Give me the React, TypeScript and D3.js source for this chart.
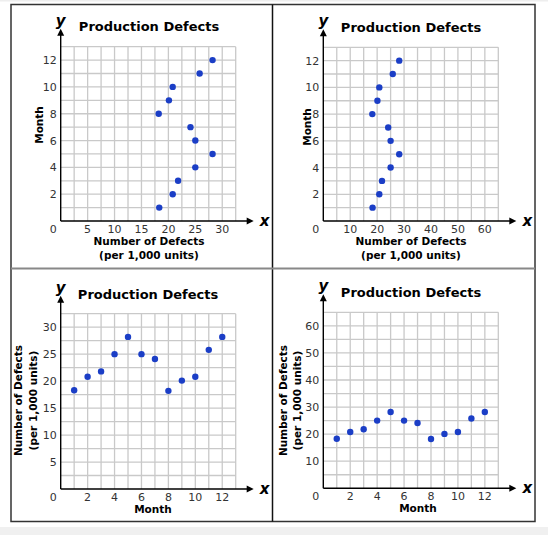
import React from "react";
import * as d3 from "d3";

const months = [1, 2, 3, 4, 5, 6, 7, 8, 9, 10, 11, 12];
const defects = [18.3, 20.8, 21.8, 25, 28.2, 25, 24.1, 18.2, 20.1, 20.8, 25.8, 28.2];

const monthTicks = [2, 4, 6, 8, 10, 12];
const defectTicksNarrow = [5, 10, 15, 20, 25, 30];
const defectTicksWide = [10, 20, 30, 40, 50, 60];

const TITLE = "Production Defects";
const DEF_LABEL = ["Number of Defects", "(per 1,000 units)"];
const MONTH_LABEL = "Month";

const FONT = "'DejaVu Sans', Verdana, sans-serif";
const DOT = "#1b3ec6";
const GRID = "#c9c9c9";

type PanelProps = {
  left: number; right: number; top: number; bottom: number;
  xMax: number; xStep: number; xTicks: number[];
  yMax: number; yStep: number; yTicks: number[];
  xs: number[]; ys: number[];
  titleX: number; titleY: number;
  xLabel: string[]; xLabelX: number;
  yLabel: string[]; yLabelX: number[]; yLabelY: number;
};

function Panel(p: PanelProps) {
  const x = d3.scaleLinear().domain([0, p.xMax]).range([p.left, p.right]);
  const y = d3.scaleLinear().domain([0, p.yMax]).range([p.bottom, p.top]);
  const xGrid = d3.range(p.xStep, p.xMax + 1e-6, p.xStep);
  const yGrid = d3.range(p.yStep, p.yMax + 1e-6, p.yStep);
  const ox = x(0);
  const oy = y(0);
  return (
    <g>
      {xGrid.map((v, i) => (
        <line key={"gx" + i} x1={x(v)} x2={x(v)} y1={p.top} y2={oy} stroke={GRID} strokeWidth={1.3} />
      ))}
      {yGrid.map((v, i) => (
        <line key={"gy" + i} x1={ox} x2={p.right} y1={y(v)} y2={y(v)} stroke={GRID} strokeWidth={1.3} />
      ))}
      <line x1={ox} x2={ox} y1={oy} y2={p.top - 14} stroke="#000" strokeWidth={1.4} />
      <path d={`M${ox - 3.5},${p.top - 11} L${ox},${p.top - 18} L${ox + 3.5},${p.top - 11} Z`} fill="#000" />
      <line x1={ox} x2={p.right + 14} y1={oy} y2={oy} stroke="#000" strokeWidth={1.4} />
      <path d={`M${p.right + 11},${oy - 3.5} L${p.right + 18},${oy} L${p.right + 11},${oy + 3.5} Z`} fill="#000" />
      <text x={ox} y={p.top - 21} textAnchor="middle" fontFamily={FONT} fontSize={15} fontWeight="bold" fontStyle="italic" fill="#000">y</text>
      <text x={p.right + 29} y={oy + 5} textAnchor="middle" fontFamily={FONT} fontSize={15} fontWeight="bold" fontStyle="italic" fill="#000">x</text>
      <text x={ox - 4} y={oy + 12} textAnchor="end" fontFamily={FONT} fontSize={11} fill="#333">0</text>
      {p.xTicks.map((v, i) => (
        <text key={"xt" + i} x={x(v)} y={oy + 12} textAnchor="middle" fontFamily={FONT} fontSize={11} fill="#333">{v}</text>
      ))}
      {p.yTicks.map((v, i) => (
        <text key={"yt" + i} x={ox - 4} y={y(v) + 4} textAnchor="end" fontFamily={FONT} fontSize={11} fill="#333">{v}</text>
      ))}
      <text x={p.titleX} y={p.titleY} textAnchor="middle" fontFamily={FONT} fontSize={13} fontWeight="bold" fill="#000">{TITLE}</text>
      {p.xLabel.map((t, i) => (
        <text key={"xl" + i} x={p.xLabelX} y={oy + 23.5 + i * 14} textAnchor="middle" fontFamily={FONT} fontSize={10.5} fontWeight="bold" fill="#000">{t}</text>
      ))}
      {p.yLabel.map((t, i) => (
        <text key={"yl" + i} transform={`translate(${p.yLabelX[i]},${p.yLabelY}) rotate(-90)`} textAnchor="middle" fontFamily={FONT} fontSize={10.5} fontWeight="bold" fill="#000">{t}</text>
      ))}
      {p.xs.map((v, i) => (
        <circle key={"d" + i} cx={x(v)} cy={y(p.ys[i])} r={3.2} fill={DOT} />
      ))}
    </g>
  );
}

export default function App() {
  return (
    <svg width={548} height={535} style={{ position: "absolute", left: 0, top: 0 }}>
      <rect x={0} y={0} width={548} height={535} fill="#fff" />
      <rect x={0} y={527} width={548} height={8} fill="#f0f0f0" />
      <rect x={0} y={0} width={548} height={1.5} fill="#eee" />
      <rect x={11} y={4.5} width={524} height={517} fill="none" stroke="#333" strokeWidth={1.5} />
      <line x1={272.5} x2={272.5} y1={4.5} y2={521.5} stroke="#111" strokeWidth={1.5} />
      <line x1={11} x2={535} y1={268.5} y2={268.5} stroke="#888" strokeWidth={2} />

      <Panel left={60.7} right={235.7} top={46.7} bottom={221}
        xMax={32.5} xStep={2.5} xTicks={defectTicksNarrow}
        yMax={13} yStep={1} yTicks={monthTicks}
        xs={defects} ys={months}
        titleX={149} titleY={31}
        xLabel={DEF_LABEL} xLabelX={149}
        yLabel={[MONTH_LABEL]} yLabelX={[43]} yLabelY={125} />

      <Panel left={323.3} right={498.3} top={47.3} bottom={221}
        xMax={65} xStep={5} xTicks={defectTicksWide}
        yMax={13} yStep={1} yTicks={monthTicks}
        xs={defects} ys={months}
        titleX={411} titleY={31.5}
        xLabel={DEF_LABEL} xLabelX={411}
        yLabel={[MONTH_LABEL]} yLabelX={[310.5]} yLabelY={127} />

      <Panel left={60.7} right={235.7} top={313.7} bottom={489}
        xMax={13} xStep={1} xTicks={monthTicks}
        yMax={32.5} yStep={2.5} yTicks={defectTicksNarrow}
        xs={months} ys={defects}
        titleX={148} titleY={298.5}
        xLabel={[MONTH_LABEL]} xLabelX={153}
        yLabel={DEF_LABEL} yLabelX={[22, 36.5]} yLabelY={400.5} />

      <Panel left={323.3} right={498.3} top={312.3} bottom={488.3}
        xMax={13} xStep={1} xTicks={monthTicks}
        yMax={65} yStep={5} yTicks={defectTicksWide}
        xs={months} ys={defects}
        titleX={411} titleY={297}
        xLabel={[MONTH_LABEL]} xLabelX={418}
        yLabel={DEF_LABEL} yLabelX={[286.5, 301]} yLabelY={400.5} />
    </svg>
  );
}
